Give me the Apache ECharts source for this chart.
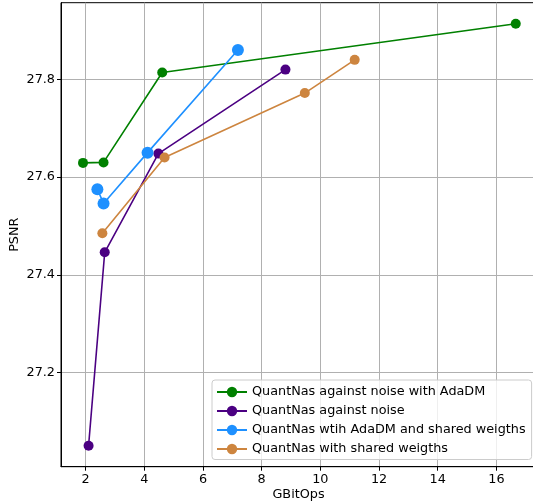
<!DOCTYPE html>
<html>
<head>
<meta charset="utf-8">
<script src="https://cdn.jsdelivr.net/npm/echarts@6/dist/echarts.min.js"></script>
<style>html,body{margin:0;padding:0;background:#fff}#c{width:533px;height:504px}</style>
</head>
<body>
<div id="c"></div>
<script>
const seriesNames = [
  'QuantNas against noise with AdaDM',
  'QuantNas against noise',
  'QuantNas wtih AdaDM and shared weigths',
  'QuantNas with shared weigths'
];
const greenX = [1.91, 2.61, 4.61, 16.66];
const greenY = [27.629, 27.63, 27.814, 27.914];
const purpleX = [2.10, 2.65, 4.48, 8.81];
const purpleY = [27.05, 27.446, 27.648, 27.82];
const blueX = [2.40, 2.61, 4.11, 7.19];
const blueY = [27.575, 27.546, 27.65, 27.86];
const orangeX = [2.57, 4.69, 9.47, 11.17];
const orangeY = [27.485, 27.64, 27.772, 27.84];
const xTicks = [2, 4, 6, 8, 10, 12, 14, 16];
const yTicks = [27.2, 27.4, 27.6, 27.8];
const colors = ['#008000', '#4B0082', '#1E90FF', '#CD853F'];
const sizes = [10, 10, 12, 10];

const xs = [greenX, purpleX, blueX, orangeX];
const ys = [greenY, purpleY, blueY, orangeY];
const FONT = 'DejaVu Sans';
const FS = 12.8;

const chart = echarts.init(document.getElementById('c'), null, {renderer: 'canvas'});
chart.setOption({
  animation: false,
  textStyle: {fontFamily: FONT},
  grid: {left: 61, right: -3, top: 2.7, bottom: 37.3, show: true, borderColor: '#000', borderWidth: 1,
    backgroundColor: 'transparent', outerBoundsMode: 'none', containLabel: false},
  xAxis: {
    type: 'value', min: 1.16, max: 17.35,
    name: 'GBitOps', nameLocation: 'middle', nameGap: 21, nameMoveOverlap: false,
    nameTextStyle: {color: '#000', fontSize: FS, fontFamily: FONT, verticalAlign: 'top'},
    axisLine: {show: true, onZero: false, lineStyle: {color: '#000', width: 1}},
    axisTick: {show: true, length: 4, lineStyle: {color: '#000'}, customValues: xTicks},
    axisLabel: {color: '#000', fontSize: FS, fontFamily: FONT, margin: 6, customValues: xTicks,
      formatter: v => String(Math.round(v))},
    splitLine: {show: true, lineStyle: {color: '#b0b0b0', width: 1}}
  },
  yAxis: {
    type: 'value', min: 27.007, max: 27.957,
    name: 'PSNR', nameLocation: 'middle', nameGap: 40, nameMoveOverlap: false,
    nameTextStyle: {color: '#000', fontSize: FS, fontFamily: FONT},
    axisLine: {show: true, onZero: false, lineStyle: {color: '#000', width: 1}},
    axisTick: {show: true, length: 4, lineStyle: {color: '#000'}, customValues: yTicks},
    axisLabel: {color: '#000', fontSize: FS, fontFamily: FONT, margin: 6, customValues: yTicks,
      formatter: v => v.toFixed(1)},
    splitLine: {show: true, lineStyle: {color: '#b0b0b0', width: 1}}
  },
  legend: {
    show: true, orient: 'vertical', left: 212, top: 380,
    padding: [5.5, 6, 4, 4], itemGap: 6,
    itemWidth: 30, itemHeight: 13,
    backgroundColor: 'rgba(255,255,255,0.8)', borderColor: '#cccccc', borderWidth: 1, borderRadius: 3,
    textStyle: {color: '#000', fontSize: FS, fontFamily: FONT},
    data: seriesNames
  },
  series: seriesNames.map((n, i) => ({
    name: n, type: 'line',
    data: xs[i].map((x, j) => [x, ys[i][j]]),
    symbol: 'circle', symbolSize: sizes[i],
    lineStyle: {color: colors[i], width: 1.6},
    itemStyle: {color: colors[i]},
    z: 2 + i
  }))
});
</script>
</body>
</html>
